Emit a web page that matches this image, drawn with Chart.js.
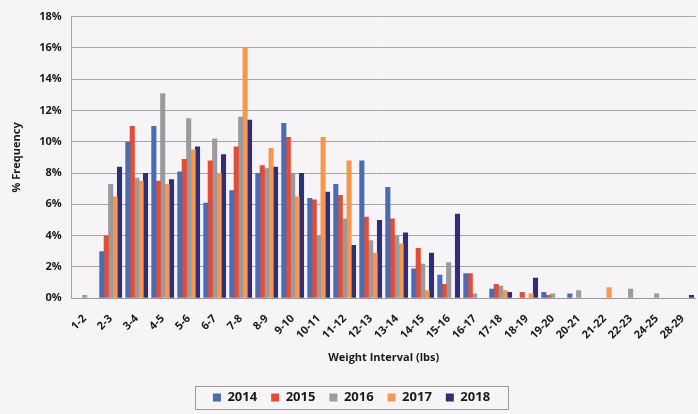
<!DOCTYPE html>
<html>
<head>
<meta charset="utf-8">
<script src="https://cdn.jsdelivr.net/npm/chart.js@4"></script>
<style>
  html, body { margin: 0; padding: 0; background: #f6f4f6; }
  #wrap { width: 698px; height: 414px; }
</style>
</head>
<body>
<div id="wrap"><canvas id="myChart" width="698" height="414"></canvas></div>
<script>
const categories = ['1-2','2-3','3-4','4-5','5-6','6-7','7-8','8-9','9-10','10-11','11-12','12-13',
  '13-14','14-15','15-16','16-17','17-18','18-19','19-20','20-21','21-22','22-23','24-25','28-29'];

const v2014 = [0, 3.0, 10.0, 11.0, 8.1, 6.1, 6.9, 8.0, 11.2, 6.4, 7.3, 8.8, 7.1, 1.9, 1.5, 1.6, 0.6, 0, 0.4, 0.3, 0, 0, 0, 0];
const v2015 = [0, 4.0, 11.0, 7.5, 8.9, 8.8, 9.7, 8.5, 10.3, 6.3, 6.6, 5.2, 5.1, 3.2, 0.9, 1.6, 0.9, 0.4, 0.2, 0, 0, 0, 0, 0];
const v2016 = [0.2, 7.3, 7.7, 13.1, 11.5, 10.2, 11.6, 8.3, 8.0, 4.0, 5.1, 3.7, 4.0, 2.2, 2.3, 0.3, 0.8, 0, 0.3, 0.5, 0, 0.6, 0.3, 0];
const v2017 = [0, 6.5, 7.5, 7.3, 9.5, 8.0, 16.0, 9.6, 6.5, 10.3, 8.8, 2.9, 3.5, 0.5, 0, 0, 0.5, 0.3, 0, 0, 0.7, 0, 0, 0];
const v2018 = [0, 8.4, 8.0, 7.6, 9.7, 9.2, 11.4, 8.4, 8.0, 6.8, 3.4, 5.0, 4.2, 2.9, 5.4, 0, 0.4, 1.3, 0, 0, 0, 0, 0, 0.2];

const seriesNames = ['2014', '2015', '2016', '2017', '2018'];
const seriesColors = ['#4a6cb3', '#e24d36', '#9c9a9c', '#f7964c', '#2d3079'];

const FONT = 'Open Sans';
const INK = '#1a1a1a';

// thin frame drawn round the legend items only
const legendBox = {
  id: 'legendBox',
  afterDraw(chart) {
    const hb = chart.legend.legendHitBoxes;
    if (!hb || !hb.length) return;
    const left = Math.min(...hb.map(h => h.left)) - 18;
    const right = Math.max(...hb.map(h => h.left + h.width)) + 18;
    const top = hb[0].top - 5;
    const bottom = hb[0].top + hb[0].height + 5;
    const c = chart.ctx;
    c.save();
    c.strokeStyle = '#9a9a9a';
    c.lineWidth = 1;
    c.strokeRect(Math.round(left) + 0.5, Math.round(top) + 0.5, Math.round(right - left), Math.round(bottom - top));
    c.restore();
  }
};

const ctxt = document.getElementById('myChart').getContext('2d');
const myChart = new Chart(ctxt, {
  type: 'bar',
  data: {
    labels: categories,
    datasets: [v2014, v2015, v2016, v2017, v2018].map((d, i) => ({
      label: seriesNames[i],
      data: d,
      backgroundColor: seriesColors[i],
      borderWidth: 0,
      categoryPercentage: 0.85,
      barPercentage: 1.15
    }))
  },
  options: {
    responsive: false,
    animation: false,
    layout: { padding: { left: 6, right: 1, top: 0, bottom: 0 } },
    plugins: {
      legend: {
        position: 'bottom',
        labels: {
          boxWidth: 8, boxHeight: 8, padding: 14,
          color: INK,
          font: { family: FONT, size: 13, weight: 'bold' }
        }
      },
      tooltip: { enabled: false }
    },
    scales: {
      x: {
        grid: { display: false },
        border: { display: true, color: '#9a9a9a' },
        ticks: {
          minRotation: 45, maxRotation: 45, autoSkip: false, padding: 6,
          color: INK,
          font: { family: FONT, size: 11, weight: 'bold' }
        },
        title: {
          display: true, text: 'Weight Interval (lbs)', color: INK,
          font: { family: FONT, size: 11, weight: 'bold' }, padding: { top: 3, bottom: 13 }
        }
      },
      y: {
        min: 0, max: 18,
        grid: { color: '#a6a6a6', drawTicks: false },
        border: { display: true, color: '#a6a6a6' },
        ticks: {
          stepSize: 2, padding: 10,
          color: INK,
          font: { family: FONT, size: 11, weight: 'bold' },
          callback: v => v + '%'
        },
        title: {
          display: true, text: '% Frequency', color: INK,
          font: { family: FONT, size: 11, weight: 'bold' }, padding: { bottom: 6 }
        }
      }
    }
  },
  plugins: [legendBox]
});
</script>
</body>
</html>
